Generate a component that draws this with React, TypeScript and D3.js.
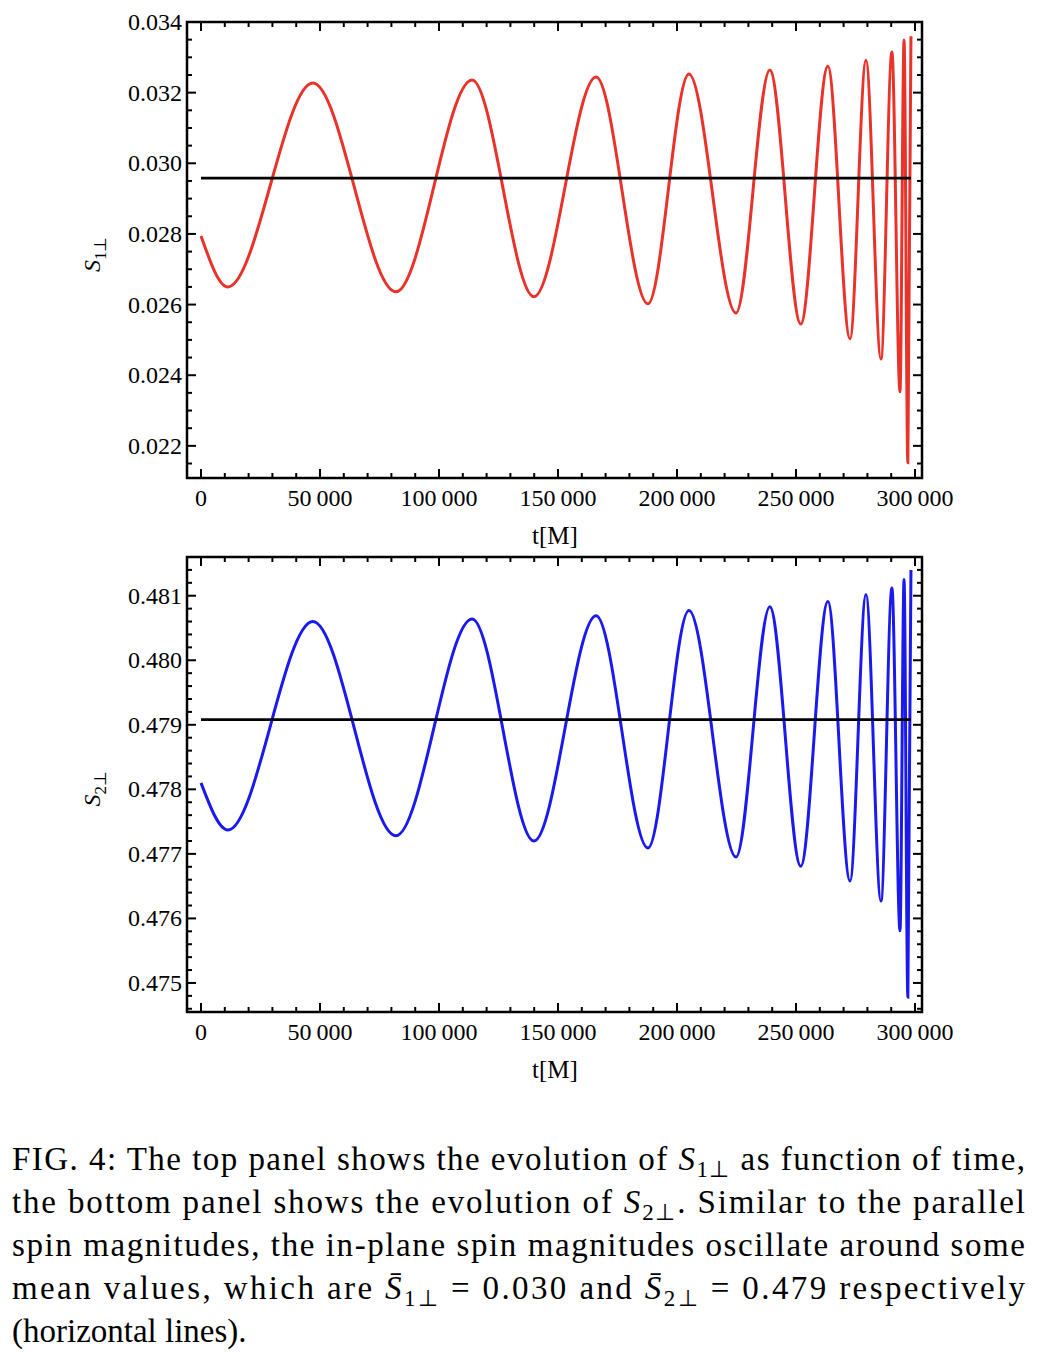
import React from 'react';
import * as d3 from 'd3';

// extrema: [t, value]
const tKnots = [0, 11300, 47000, 81900, 113900, 139900, 166000, 187800, 205000, 224800, 239000, 252000, 263400, 272700, 279400, 285700, 290300, 293700, 295400, 297000, 298300];
const s1Values = [0.02794, 0.0265, 0.03227, 0.02636, 0.03236, 0.02622, 0.03244, 0.02602, 0.03253, 0.02576, 0.03264, 0.02545, 0.03275, 0.02503, 0.03292, 0.02446, 0.03315, 0.02353, 0.03349, 0.02152, 0.0336];
const s2Values = [0.4781, 0.47737, 0.4806, 0.47728, 0.48064, 0.4772, 0.48069, 0.47709, 0.48077, 0.47695, 0.48083, 0.47681, 0.48091, 0.47658, 0.48102, 0.47627, 0.48112, 0.47581, 0.48125, 0.47478, 0.4814];
const s1Mean = 0.02958;
const s2Mean = 0.47908;
const xTicks = [0, 50000, 100000, 150000, 200000, 250000, 300000];
const s1Ticks = [0.022, 0.024, 0.026, 0.028, 0.030, 0.032, 0.034];
const s2Ticks = [0.475, 0.476, 0.477, 0.478, 0.479, 0.480, 0.481];

const font = "'Times New Roman', 'Liberation Serif', Tinos, Times, serif";
const fmtX = (v: number) => v === 0 ? '0' : String(v).replace(/(\d)(?=(\d{3})+$)/g, '$1\u2009');

interface PanelProps {
  top: number; bottom: number; values: number[]; mean: number; color: string;
  yDomain: [number, number]; yTicks: number[]; yMinor: number; yFmt: (v: number) => string; sub: string;
}

const Panel: React.FC<PanelProps> = ({ top, bottom, values, mean, color, yDomain, yTicks, yMinor, yFmt, sub }) => {
  const left = 187, right = 922;
  const x = d3.scaleLinear().domain([0, 300000]).range([201, 915]);
  const y = d3.scaleLinear().domain(yDomain).range([bottom, top]);
  const line = d3.line<number>().x((_, i) => x(tKnots[i])).y(d => y(d)).curve(d3.curveMonotoneX);
  const xMinor = d3.range(0, 300001, 10000);
  const [y0, y1] = [Math.min(...yDomain), Math.max(...yDomain)];
  const yMinorTicks = d3.range(Math.ceil(y0 / yMinor) * yMinor, y1, yMinor);
  const isMajor = (v: number, arr: number[]) => arr.some(a => Math.abs(a - v) < 1e-9);
  return (
    <g fontFamily={font}>
      <path d={line(values) || ''} fill="none" stroke={color} strokeWidth={3} />
      <line x1={x(0)} x2={x(298300)} y1={y(mean)} y2={y(mean)} stroke="#000" strokeWidth={2.6} />
      <rect x={left} y={top} width={right - left} height={bottom - top} fill="none" stroke="#000" strokeWidth={2.5} />
      {xMinor.map(t => {
        const len = t % 50000 === 0 ? 9 : 5;
        return (
          <g key={t}>
            <line x1={x(t)} x2={x(t)} y1={bottom} y2={bottom - len} stroke="#000" strokeWidth={2} />
            <line x1={x(t)} x2={x(t)} y1={top} y2={top + len} stroke="#000" strokeWidth={2} />
          </g>
        );
      })}
      {yMinorTicks.map(v => {
        const len = isMajor(v, yTicks) ? 9 : 5;
        return (
          <g key={v}>
            <line x1={left} x2={left + len} y1={y(v)} y2={y(v)} stroke="#000" strokeWidth={2} />
            <line x1={right} x2={right - len} y1={y(v)} y2={y(v)} stroke="#000" strokeWidth={2} />
          </g>
        );
      })}
      {xTicks.map(t => (
        <text key={t} x={x(t)} y={bottom + 28} textAnchor="middle" fontSize={24}>{fmtX(t)}</text>
      ))}
      {yTicks.map(v => (
        <text key={v} x={left - 5} y={y(v) + 8} textAnchor="end" fontSize={24}>{yFmt(v)}</text>
      ))}
      <text x={555} y={bottom + 66} textAnchor="middle" fontSize={25}>t[M]</text>
      <text transform={`translate(100, ${(top + bottom) / 2 + 22}) rotate(-90)`} fontSize={24} fontStyle="italic">
        S<tspan fontStyle="normal" fontSize={17} dy={6}>{sub}⊥</tspan>
      </text>
    </g>
  );
};

const App: React.FC = () => {
  const fs = 33;
  const S = (s: string, bar = false) => [
    <tspan key="s" fontStyle="italic">{bar ? 'S\u0304' : 'S'}</tspan>,
    <tspan key="b" fontSize={23} dy={7}>{s}⊥</tspan>,
  ];
  return (
    <svg width={1042} height={1362} style={{ position: 'absolute', left: 0, top: 0, background: '#fff' }}>
      <Panel top={22} bottom={478} values={s1Values} mean={s1Mean} color="#e8322a"
        yDomain={[0.02109, 0.034]} yTicks={s1Ticks} yMinor={0.0005} yFmt={v => v.toFixed(3)} sub="1" />
      <Panel top={557} bottom={1012} values={s2Values} mean={s2Mean} color="#1a1aee"
        yDomain={[0.47455, 0.4816]} yTicks={s2Ticks} yMinor={0.0002} yFmt={v => v.toFixed(3)} sub="2" />
      <g fontFamily={font} fontSize={fs}>
        <text x={12} y={1170} textLength={1013} lengthAdjust="spacing">FIG. 4: The top panel shows the evolution of {S('1')}<tspan dy={-7}> as function of time,</tspan></text>
        <text x={12} y={1213} textLength={1013} lengthAdjust="spacing">the bottom panel shows the evolution of {S('2')}<tspan dy={-7}>. Similar to the parallel</tspan></text>
        <text x={12} y={1256} textLength={1013} lengthAdjust="spacing">spin magnitudes, the in-plane spin magnitudes oscillate around some</text>
        <text x={12} y={1299} textLength={1013} lengthAdjust="spacing">mean values, which are {S('1', true)}<tspan dy={-7}> = 0.030 and </tspan>{S('2', true)}<tspan dy={-7}> = 0.479 respectively</tspan></text>
        <text x={12} y={1342}>(horizontal lines).</text>
      </g>
    </svg>
  );
};

export default App;
